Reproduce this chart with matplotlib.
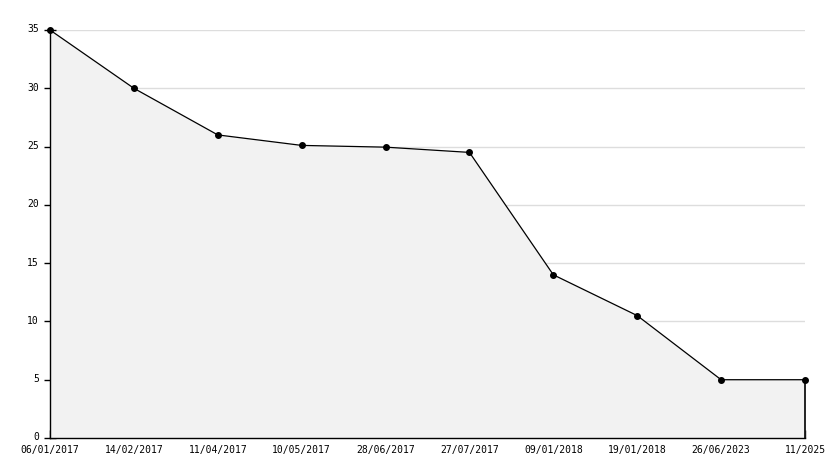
import matplotlib
matplotlib.use("Agg")
import matplotlib.pyplot as plt
from matplotlib.ticker import MultipleLocator
import matplotlib.transforms as mtransforms
import numpy as np

dates = ["06/01/2017", "14/02/2017", "11/04/2017", "10/05/2017", "28/06/2017",
         "27/07/2017", "09/01/2018", "19/01/2018", "26/06/2023", "11/2025"]
values = [35, 30, 26, 25.1, 24.95, 24.5, 14, 10.5, 5, 5]

x = np.arange(len(dates))

fig = plt.figure(figsize=(8.34, 4.68), dpi=100)
ax = fig.add_axes([50/834, 30/468, 755/834, 408/468])

ax.fill_between(x, values, 0, color="#f2f2f2", linewidth=0, zorder=1)
ax.plot(x, values, color="black", linewidth=0.9, marker="o", markersize=4.0,
        zorder=4, clip_on=False)
ax.vlines(x[-1], 0, values[-1], color="black", linewidth=1.2, zorder=3, clip_on=False)

ax.set_xlim(x[0], x[-1])
ax.set_ylim(0, 35)
ax.set_xticks(x)
ax.set_xticklabels(dates, fontfamily="DejaVu Sans Mono", fontsize=7)
ax.yaxis.set_major_locator(MultipleLocator(5))
ax.yaxis.set_minor_locator(MultipleLocator(1))
for lbl in ax.get_yticklabels():
    lbl.set_fontfamily("DejaVu Sans Mono")
    lbl.set_fontsize(7)

ax.grid(axis="y", which="major", color="#dddddd", linewidth=1, zorder=0)
ax.set_axisbelow(True)

for s in ["top", "right"]:
    ax.spines[s].set_visible(False)
ax.spines["left"].set_linewidth(1)
ax.spines["bottom"].set_linewidth(1)

ax.tick_params(axis="y", which="major", direction="inout", length=8, width=1, pad=4)
ax.tick_params(axis="y", which="minor", direction="in", length=4, width=1)
ax.tick_params(axis="x", which="major", direction="in", length=6, width=1, pad=5)

# nudge y tick labels up by 1 px to keep "0" clear of the first date label
offset = mtransforms.ScaledTranslation(0, 1.5/100, fig.dpi_scale_trans)
for lbl in ax.get_yticklabels():
    lbl.set_transform(lbl.get_transform() + offset)

fig.savefig("out.png", dpi=100)
